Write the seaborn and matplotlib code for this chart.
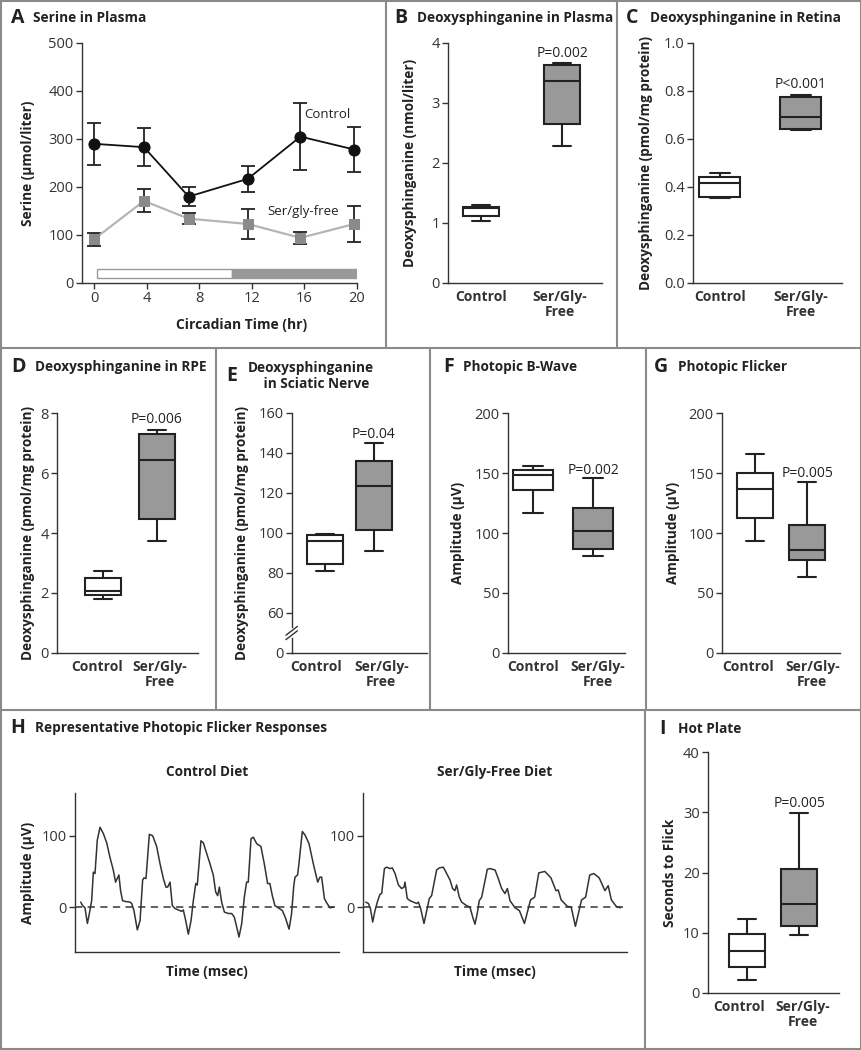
import numpy as np
import pandas as pd
import seaborn as sns
import matplotlib.pyplot as plt
from matplotlib.lines import Line2D
from matplotlib.patches import Rectangle

W, H = 862, 1050

# ---- A: serine in plasma (mean +/- SD) ----
circ_time = [0, 3.8, 7.2, 11.7, 15.7, 19.8]
serine_control = [290, 283, 180, 217, 305, 278]
serine_control_sd = [44, 40, 20, 27, 70, 47]
serine_free = [91, 171, 134, 123, 94, 123]
serine_free_sd = [13, 24, 11, 31, 12, 37]
light_phase = (0.2, 10.5)
dark_phase = (10.5, 20)

# ---- box panels: min, q1, median, q3, max ----
groups = ["Control", "Ser/Gly-\nFree"]
plasma_ctrl = [1.03, 1.12, 1.25, 1.27, 1.30]
plasma_free = [2.28, 2.65, 3.36, 3.63, 3.66]
retina_ctrl = [0.355, 0.36, 0.415, 0.442, 0.457]
retina_free = [0.637, 0.643, 0.69, 0.774, 0.783]
rpe_ctrl = [1.81, 1.92, 2.08, 2.49, 2.74]
rpe_free = [3.72, 4.48, 6.45, 7.30, 7.45]
nerve_ctrl = [81, 84.5, 96.2, 98.8, 99.5]
nerve_free = [90.8, 101.5, 123.3, 136.2, 144.8]
bwave_ctrl = [117, 135.6, 148, 152.8, 156]
bwave_free = [81, 87, 101.7, 121, 145.6]
flicker_ctrl = [93.3, 112.8, 136.7, 149.7, 165.6]
flicker_free = [63.3, 77.8, 85.6, 106.4, 142.5]
hotplate_ctrl = [2.1, 4.37, 6.96, 9.8, 12.3]
hotplate_free = [9.6, 11.2, 14.7, 20.5, 29.9]

# ---- H: representative flicker traces (msec, uV) ----
ctrl_t = [0, 1.3, 2.8, 4.4, 5.7, 7.2, 8.3, 9.4, 10.9, 12.7, 14.9, 17.1, 19.2, 21.4,
          22.9, 24.0, 25.1, 26.2, 27.5, 29.1, 32.4, 33.5, 35.0, 37.2, 39.0, 40.7,
          41.6, 42.9, 45.1, 47.3, 49.9, 52.1, 54.3, 56.0, 57.1, 58.7, 60.2, 62.0,
          64.1, 66.3, 67.4, 69.0, 70.7, 72.5, 74.0, 75.6, 76.6, 79.0, 80.6, 82.8,
          84.9, 87.1, 88.7, 90.0, 91.1, 92.6, 94.4, 97.0, 99.2, 100.9, 102.5, 104.0,
          105.8, 107.5, 109.0, 110.1, 111.9, 113.4, 115.6, 118.4, 120.6, 122.8,
          124.3, 125.9, 127.6, 129.8, 132.5, 134.5, 136.9, 138.5, 140.0, 140.8,
          142.5, 143.4, 145.6, 147.4, 150.0, 152.8, 155.7, 157.2, 158.3, 160.1,
          161.6, 163.8, 166.0]
ctrl_uv = [7, 2, -1, -23, -9, 9, 49, 47, 94, 112, 103, 90, 70, 52,
           35, 40, 45, 23, 9, 8, 7, 5, -5, -32, -19, 38,
           41, 40, 102, 100, 85, 61, 40, 28, 28, 35, 2, -2,
           -4, -6, -4, -19, -38, -19, 9, 33, 31, 93, 90, 75,
           61, 45, 21, 16, 28, 7, -7, -9, -9, -14, -28, -42,
           -23, 14, 35, 35, 96, 98, 89, 85, 61, 33,
           33, 16, 2, -1, -5, -15, -31, -10, 30, 42,
           45, 61, 106, 101, 89, 61, 35, 42, 42, 12,
           6, -1, 0]
free_t = [0, 1.8, 3.1, 4.6, 6.1, 7.9, 9.4, 10.5, 12.3, 13.8, 16.0, 17.5, 19.3, 21.5,
          23.6, 25.2, 25.8, 27.3, 29.1, 31.3, 33.5, 34.6, 36.1, 38.3, 40.1, 41.8,
          43.3, 46.6, 48.4, 51.0, 53.2, 55.4, 57.1, 58.6, 59.7, 61.5, 63.0, 66.3,
          68.5, 70.3, 71.8, 73.3, 74.6, 76.2, 79.9, 81.7, 85.0, 87.1, 89.3, 91.5,
          93.1, 94.8, 98.1, 101.0, 104.3, 108.3, 111.0, 113.7, 117.7, 121.7, 125.0,
          126.5, 128.4, 132.5, 135.0, 137.8, 141.8, 144.5, 147.2, 149.9, 153.4,
          157.2, 159.3, 161.4, 164.6, 167.3]
free_uv = [7, 5, -2, -21, -5, 9, 18, 19, 54, 56, 54, 55, 47, 31,
           26, 28, 35, 12, 9, 7, 5, 7, -2, -23, -5, 12,
           16, 52, 55, 56, 47, 38, 26, 23, 31, 14, 7, 2,
           0, -14, -24, -9, 9, 14, 53, 54, 52, 40, 26, 19,
           26, 9, -1, -5, -23, 10, 14, 48, 50, 41, 23,
           24, 10, 1, 0, -27, 10, 14, 45, 47, 41,
           23, 30, 10, 1, -1]

sns.set_theme(style="ticks")
plt.rcParams['font.family'] = ['Open Sans', 'DejaVu Sans']
plt.rcParams['axes.edgecolor'] = '#333333'
plt.rcParams['xtick.color'] = '#333333'
plt.rcParams['ytick.color'] = '#333333'
plt.rcParams['text.color'] = '#222222'
plt.rcParams['axes.labelcolor'] = '#222222'

TICK = 10.5
LAB = 9.8
CAT = 10
NOTE = 9.5
GRAY = '#999999'
INK = '#222222'

fig = plt.figure(figsize=(W / 100, H / 100), dpi=100)


def add_ax(left, top, right, bottom):
    return fig.add_axes([left / W, 1 - bottom / H, (right - left) / W, (bottom - top) / H])


def style(ax):
    sns.despine(ax=ax)
    for s in ["left", "bottom"]:
        ax.spines[s].set_linewidth(1.0)
    ax.tick_params(axis='both', length=4, width=1, labelsize=TICK, pad=2)
    ax.set_facecolor('none')


def ylabel_at(ax, text, x_px, left, right):
    ax.set_ylabel(text, fontsize=LAB, fontweight='bold')
    ax.yaxis.set_label_coords((x_px + 7 - left) / (right - left), 0.5)


def panel_title(letter, title, x_letter, x_title, y):
    fig.text(x_letter / W, 1 - y / H, letter, fontsize=14, fontweight='bold', va='center')
    fig.text(x_title / W, 1 - y / H, title, fontsize=9.8, fontweight='bold', va='center',
             multialignment='center')


def box_panel(box, ctrl, free, width, xlim, ylim, yticks, ylabel, label_x, ptext, py,
              cat_pos=(0, 1)):
    left, top, right, bottom = box
    ax = add_ax(left, top, right, bottom)
    df = pd.DataFrame({"group": [groups[0]] * len(ctrl) + [groups[1]] * len(free),
                       "value": list(ctrl) + list(free)})
    sns.boxplot(data=df, x="group", y="value", hue="group", order=groups,
                palette={groups[0]: "white", groups[1]: GRAY}, width=width,
                whis=(0, 100), linecolor=INK, linewidth=1.5, legend=False, ax=ax)
    style(ax)
    ax.set_xlim(*xlim)
    ax.set_ylim(*ylim)
    ax.set_yticks(yticks)
    ax.set_xlabel("")
    ax.set_xticks(list(cat_pos), groups)
    ax.tick_params(axis='x', length=0, pad=5)
    for t in ax.get_xticklabels():
        t.set_fontweight('bold')
        t.set_fontsize(CAT)
        t.set_linespacing(1.1)
    ylabel_at(ax, ylabel, label_x, left, right)
    ax.text(1, py, ptext, ha='center', va='center', fontsize=10)
    return ax


# ---------- A ----------
axA = add_ax(82, 43, 357, 283)
axA.errorbar(circ_time, serine_control, yerr=serine_control_sd, fmt='none', ecolor=INK,
             elinewidth=1.3, capsize=5, capthick=1.3, clip_on=False, zorder=3)
axA.errorbar(circ_time, serine_free, yerr=serine_free_sd, fmt='none', ecolor=INK,
             elinewidth=1.3, capsize=5, capthick=1.3, clip_on=False, zorder=3)
sns.lineplot(x=circ_time, y=serine_free, color='#b5b5b5', linewidth=1.6, marker='s',
             markersize=7.5, markerfacecolor='#8a8a8a', markeredgecolor='#8a8a8a',
             ax=axA, zorder=4, clip_on=False)
sns.lineplot(x=circ_time, y=serine_control, color='#111111', linewidth=1.3, marker='o',
             markersize=8, markerfacecolor='#111111', markeredgecolor='#111111',
             ax=axA, zorder=5, clip_on=False)
axA.add_patch(Rectangle((light_phase[0], 10), light_phase[1] - light_phase[0], 19,
                        facecolor='white', edgecolor=GRAY, lw=1, zorder=2))
axA.add_patch(Rectangle((dark_phase[0], 10), dark_phase[1] - dark_phase[0], 19,
                        facecolor=GRAY, edgecolor=GRAY, lw=1, zorder=2))
style(axA)
axA.set_xlim(-0.91, 20)
axA.set_ylim(0, 500)
axA.set_xticks([0, 4, 8, 12, 16, 20])
axA.set_yticks([0, 100, 200, 300, 400, 500])
ylabel_at(axA, "Serine (μmol/liter)", 28, 82, 357)
axA.set_xlabel("Circadian Time (hr)", fontsize=LAB + 0.2, fontweight='bold')
axA.xaxis.set_label_coords((242 - 82) / 275, -(325 - 283 - 7) / 240)
axA.text(16.0, 350, "Control", fontsize=NOTE, va='center')
axA.text(13.2, 149, "Ser/gly-free", fontsize=NOTE, va='center')
panel_title("A", "Serine in Plasma", 11, 33, 18)

# ---------- B ----------
box_panel((448, 43, 602, 283), plasma_ctrl, plasma_free, 0.44, (-0.41, 1.49), (0, 4),
          [0, 1, 2, 3, 4], "Deoxysphinganine (nmol/liter)", 410, "P=0.002", 3.83,
          (0, 0.97))
panel_title("B", "Deoxysphinganine in Plasma", 394, 417, 18)

# ---------- C ----------
axC = box_panel((693, 43, 842, 283), retina_ctrl, retina_free, 0.5, (-0.33, 1.51), (0, 1.0),
                [0, 0.2, 0.4, 0.6, 0.8, 1.0], "Deoxysphinganine (pmol/mg protein)", 646,
                "P<0.001", 0.828)
axC.set_yticklabels(["0.0", "0.2", "0.4", "0.6", "0.8", "1.0"])
panel_title("C", "Deoxysphinganine in Retina", 626, 650, 18)

# ---------- D ----------
box_panel((57, 413, 198, 653), rpe_ctrl, rpe_free, 0.67, (-0.85, 1.76), (0, 8),
          [0, 2, 4, 6, 8], "Deoxysphinganine (pmol/mg protein)", 28, "P=0.006", 7.8,
          (-0.11, 1.06))
panel_title("D", "Deoxysphinganine in RPE", 11, 35, 367)

# ---------- E (broken axis: bottom tick stands for 0) ----------
axE = box_panel((292, 413, 427, 653), nerve_ctrl, nerve_free, 0.74, (-0.67, 2.08), (40, 160),
                [40, 60, 80, 100, 120, 140, 160], "Deoxysphinganine (pmol/mg protein)", 242,
                "P=0.04", 149, (-0.18, 1.15))
axE.set_yticklabels(["0", "60", "80", "100", "120", "140", "160"])
tr = axE.get_yaxis_transform()
axE.plot([0, 0], [48.5, 51.5], transform=tr, color='white', lw=3, clip_on=False, zorder=6)
for y0 in (46.7, 48.9):
    axE.plot([-0.045, 0.04], [y0, y0 + 4.4], transform=tr, color='#333333', lw=1,
             clip_on=False, zorder=7)
panel_title("E", "Deoxysphinganine\n   in Sciatic Nerve", 226, 248, 376)

# ---------- F ----------
box_panel((508, 413, 625, 653), bwave_ctrl, bwave_free, 0.67, (-0.42, 1.53), (0, 200),
          [0, 50, 100, 150, 200], "Amplitude (μV)", 458, "P=0.002", 152.5, (0, 1.08))
panel_title("F", "Photopic B-Wave", 443, 463, 367)

# ---------- G ----------
box_panel((722, 413, 840, 653), flicker_ctrl, flicker_free, 0.69, (-0.63, 1.63), (0, 200),
          [0, 50, 100, 150, 200], "Amplitude (μV)", 673, "P=0.005", 149.7, (-0.13, 1.1))
panel_title("G", "Photopic Flicker", 654, 678, 367)

# ---------- H ----------
for (l, r, t_, uv, sub) in [(75, 339, ctrl_t, ctrl_uv, "Control Diet"),
                            (363, 627, free_t, free_uv, "Ser/Gly-Free Diet")]:
    ax = add_ax(l, 793, r, 952)
    ax.axhline(0, color='#555555', lw=1.3, ls=(0, (4, 3)), zorder=1)
    sns.lineplot(x=t_, y=uv, color='#333333', linewidth=1.1, ax=ax, zorder=2)
    style(ax)
    off = 80.7 if l == 75 else 365.7
    ax.set_xlim((l - off) * 0.657, (r - off) * 0.657)
    ax.set_ylim(-63, 160)
    ax.set_yticks([0, 100])
    ax.set_xticks([])
    ax.set_xlabel("Time (msec)", fontsize=LAB, fontweight='bold')
    ax.xaxis.set_label_coords(0.5, -(972 - 952 - 7) / 159)
    ax.set_title(sub, fontsize=LAB, fontweight='bold', pad=12)
    if l == 75:
        ylabel_at(ax, "Amplitude (μV)", 28, l, r)
panel_title("H", "Representative Photopic Flicker Responses", 10, 35, 728)

# ---------- I ----------
box_panel((708, 752, 839, 993), hotplate_ctrl, hotplate_free, 0.68, (-0.74, 1.76), (0, 40),
          [0, 10, 20, 30, 40], "Seconds to Flick", 670, "P=0.005", 31.5, (-0.14, 1.07))
panel_title("I", "Hot Plate", 659, 678, 729)

# ---------- panel frames ----------
def fline(x0, y0, x1, y1):
    fig.add_artist(Line2D([x0 / W, x1 / W], [1 - y0 / H, 1 - y1 / H], color='#8a8a8a', lw=1.5))


fline(1, 1, 861, 1)
fline(1, 1, 1, 1049)
fline(861, 1, 861, 1049)
fline(1, 1049, 861, 1049)
fline(0, 348, 862, 348)
fline(0, 710, 862, 710)
fline(386, 0, 386, 348)
fline(617, 0, 617, 348)
fline(216, 348, 216, 710)
fline(430, 348, 430, 710)
fline(646, 348, 646, 710)
fline(645, 710, 645, 1050)

fig.savefig("out.png", dpi=100)
